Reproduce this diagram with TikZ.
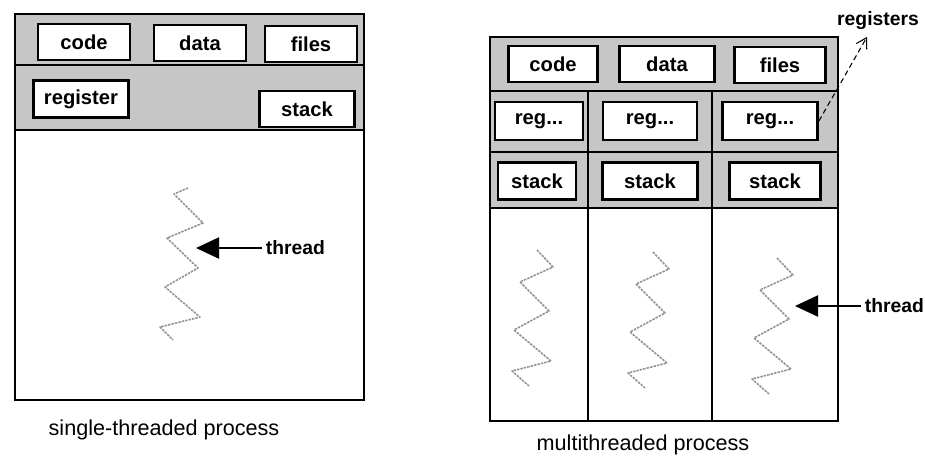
\documentclass[tikz,border=0pt]{standalone}
\usepackage{fontspec}
\setmainfont{Liberation Sans}
\usetikzlibrary{arrows.meta, calc}

\tikzset{
  box/.style={draw, line width=1.6pt, fill=white, inner sep=0pt,
    minimum width=1.84cm, minimum height=0.72cm,
    font=\bfseries\fontsize{11.5}{13}\selectfont},
  zig/.style={gray!85, line width=0.9pt, dash pattern=on 1.4pt off 0.6pt, line join=round},
  thrarrow/.style={line width=1.3pt, -{Triangle[length=0.46cm, width=0.42cm]}},
  thrlabel/.style={font=\bfseries\fontsize{11}{13}\selectfont, inner sep=2pt},
  proclabel/.style={font=\fontsize{12.3}{14}\selectfont},
}

\begin{document}
\begin{tikzpicture}[x=0.02cm, y=-0.02cm]
  \useasboundingbox (0,0) rectangle (925,457);

  % Single-threaded process: shaded header and outline
  \fill[gray!45] (15,14) rectangle (364,130);
  \draw[line width=1.1pt] (15,14) rectangle (364,400);
  \draw[line width=1pt] (15,65) -- (364,65);
  \draw[line width=1pt] (15,130) -- (364,130);

  % Shared parts and the one thread's parts
  \node[box] (code1) at (84,42) {code};
  \node[box] (data1) at (200,43) {data};
  \node[box] (files1) at (311,44) {files};
  \node[box, minimum width=1.9cm, minimum height=0.74cm] (reg1) at (81,99) {register};
  \node[box, minimum width=1.9cm] (stack1) at (307,109) {stack};

  % The thread
  \draw[zig] (188,188) -- (174,194) -- (203,223) -- (167,238) -- (198,268)
    -- (165,287) -- (200,317) -- (160,327) -- (173,340);
  \coordinate (tip1) at (196,248);
  \node[thrlabel, anchor=west] (thread1) at (262,248) {thread};
  \draw[thrarrow] (thread1.west) -- (tip1);

  \node[proclabel] (single) at (164,430) {single-threaded process};

  % Multithreaded process: shaded header and outline
  \fill[gray!45] (490,37) rectangle (838,208);
  \draw[line width=1.1pt] (490,37) rectangle (838,421);
  \draw[line width=1pt] (490,91) -- (838,91);
  \draw[line width=1pt] (490,152) -- (838,152);
  \draw[line width=1pt] (490,208) -- (838,208);
  \draw[line width=1pt] (588,91) -- (588,421);
  \draw[line width=1pt] (712,91) -- (712,421);

  % Shared parts
  \node[box, minimum width=1.78cm] (code2) at (553,64) {code};
  \node[box, minimum width=1.9cm] (data2) at (667,64) {data};
  \node[box, minimum width=1.82cm] (files2) at (780,65) {files};

  % One register set and one stack per thread
  \node[box, minimum width=1.76cm, minimum height=0.76cm] (rega) at (539,121) {reg...};
  \node[box, minimum width=1.88cm, minimum height=0.76cm] (regb) at (650,121) {reg...};
  \node[box, minimum width=1.9cm, minimum height=0.76cm] (regc) at (770,121) {reg...};
  \node[box, minimum width=1.56cm, minimum height=0.74cm] (stacka) at (537,181) {stack};
  \node[box, minimum width=1.9cm, minimum height=0.74cm] (stackb) at (650,181) {stack};
  \node[box, minimum width=1.82cm, minimum height=0.74cm] (stackc) at (775,181) {stack};

  % The three threads
  \foreach \bx/\by in {537/250, 653/252, 777/258}
    \draw[zig, shift={(\bx,\by)}] (0,0) -- (16,17) -- (-17,32) -- (12,61) -- (-23,80)
      -- (14,111) -- (-25,121) -- (-8,136);
  \coordinate (tip2) at (795,306);
  \node[thrlabel, anchor=west] (thread2) at (861,306) {thread};
  \draw[thrarrow] (thread2.west) -- (tip2);

  % Label for the register sets
  \node[thrlabel] (regs) at (878,21) {registers};
  \draw[line width=0.6pt, densely dashed, -{Straight Barb[length=2mm, width=2.4mm]}]
    (regc.east) -- ($(regs.south)+(-11,3)$);

  \node[proclabel] (multi) at (643,445) {multithreaded process};
\end{tikzpicture}
\end{document}
